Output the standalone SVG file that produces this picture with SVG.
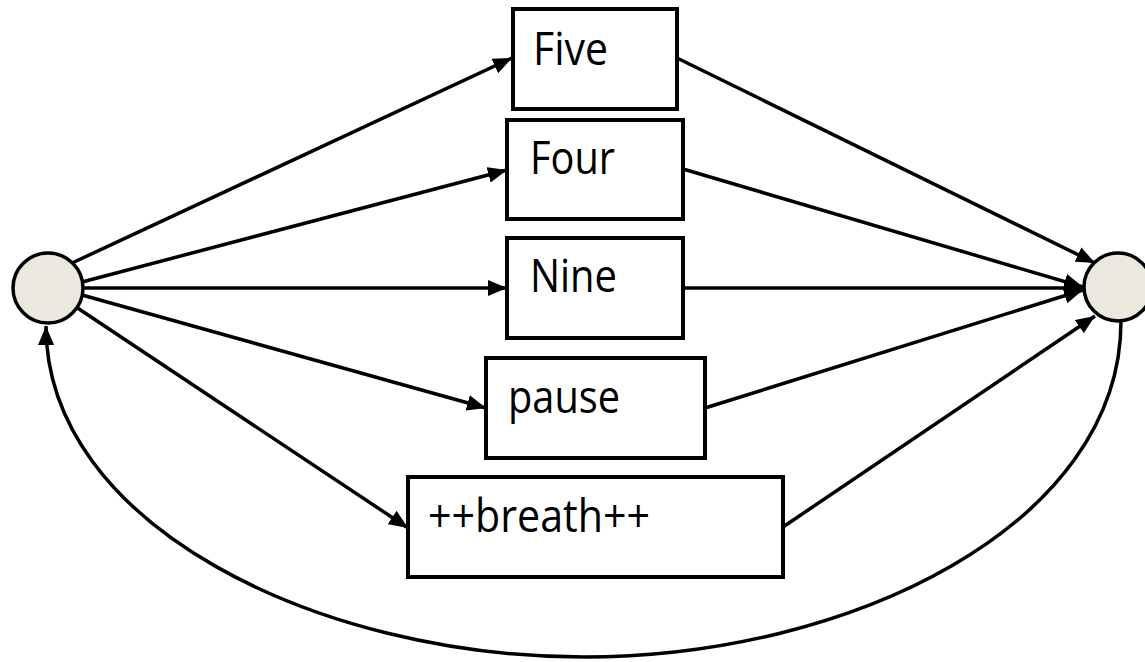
<svg xmlns="http://www.w3.org/2000/svg" width="1145" height="662" viewBox="0 0 1145 662">
<style>
.box{fill:#fff;stroke:#000;stroke-width:4}
.st{fill:#EBE8DE;stroke:#000;stroke-width:3.5}
.lbl{font-family:"Open Sans","Noto Sans",sans-serif;font-size:46px;fill:#000}
.edge{fill:none;stroke:#000;stroke-width:3.5}
</style>
<defs>
<marker id="arr" markerUnits="userSpaceOnUse" markerWidth="20" markerHeight="16" refX="19" refY="8" orient="auto">
<path d="M0,0 L19,8 L0,16 z" fill="#000"/>
</marker>
</defs>
<g id="connectors">
<line class="edge" x1="72" y1="263" x2="512" y2="58" marker-end="url(#arr)"/>
<line class="edge" x1="82" y1="282" x2="507" y2="170" marker-end="url(#arr)"/>
<line class="edge" x1="83" y1="288" x2="507" y2="288" marker-end="url(#arr)"/>
<line class="edge" x1="82" y1="295" x2="486" y2="408" marker-end="url(#arr)"/>
<line class="edge" x1="76" y1="307" x2="408" y2="528" marker-end="url(#arr)"/>
<line class="edge" x1="677" y1="58" x2="1095" y2="263" marker-end="url(#arr)"/>
<line class="edge" x1="683" y1="169" x2="1083" y2="287" marker-end="url(#arr)"/>
<line class="edge" x1="683" y1="288" x2="1083" y2="288" marker-end="url(#arr)"/>
<line class="edge" x1="705" y1="408" x2="1083" y2="290" marker-end="url(#arr)"/>
<line class="edge" x1="783" y1="527" x2="1095" y2="316" marker-end="url(#arr)"/>
<path class="edge" d="M1121 321 C1121 525 850 657 584 657 C318 657 46 525 46 326" marker-end="url(#arr)"/>
</g>
<g id="start"><circle class="st" cx="48" cy="288" r="35"/></g>
<g id="end"><circle class="st" cx="1118" cy="287" r="34"/></g>
<g id="five"><rect class="box" x="513" y="9" width="164" height="100"/><text class="lbl" x="533" y="65" textLength="75" lengthAdjust="spacingAndGlyphs">Five</text></g>
<g id="four"><rect class="box" x="507" y="120" width="176" height="99"/><text class="lbl" x="530" y="174" textLength="85" lengthAdjust="spacingAndGlyphs">Four</text></g>
<g id="nine"><rect class="box" x="507" y="238" width="176" height="100"/><text class="lbl" x="530" y="292" textLength="87" lengthAdjust="spacingAndGlyphs">Nine</text></g>
<g id="pause"><rect class="box" x="486" y="358" width="219" height="100"/><text class="lbl" x="508" y="413" textLength="112" lengthAdjust="spacingAndGlyphs">pause</text></g>
<g id="breath"><rect class="box" x="408" y="477" width="375" height="100"/><text class="lbl" x="428" y="532" textLength="222" lengthAdjust="spacingAndGlyphs">++breath++</text></g>
</svg>
